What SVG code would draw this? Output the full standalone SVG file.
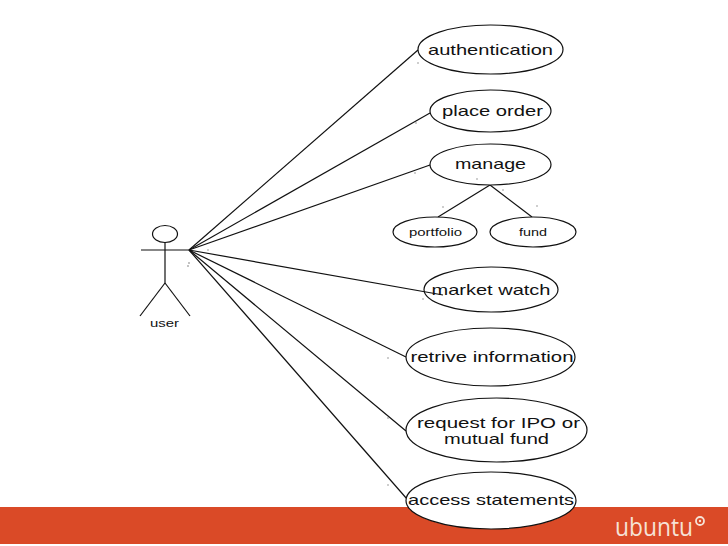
<svg xmlns="http://www.w3.org/2000/svg" width="728" height="546" viewBox="0 0 728 546">
<style>
.n{fill:#fff;stroke:#111;stroke-width:1.2}
.c line,.a line{stroke:#111;stroke-width:1.2;fill:none}
.a ellipse{fill:#fff;stroke:#111;stroke-width:1.2}
text{font-family:"Liberation Sans",Arial,sans-serif;fill:#111;text-anchor:middle}
.l{font-size:15px}
.s{font-size:10.5px}
.d circle{fill:#777}
</style>
<rect id="band" x="0" y="507" width="728" height="37" fill="#da4a27"/>
<g id="connectors" class="c">
<line x1="189" y1="250" x2="418" y2="50"/>
<line x1="189" y1="250" x2="430" y2="113"/>
<line x1="189" y1="250" x2="430" y2="165"/>
<line x1="189" y1="250" x2="443" y2="295"/>
<line x1="189" y1="250" x2="406" y2="357"/>
<line x1="189" y1="250" x2="406" y2="431"/>
<line x1="189" y1="250" x2="407" y2="499"/>
<line x1="490" y1="185" x2="438" y2="217"/>
<line x1="490" y1="185" x2="532" y2="217"/>
</g>
<g id="actor" class="a">
<ellipse cx="165" cy="234" rx="12.5" ry="8.5"/>
<line x1="165" y1="242" x2="165" y2="283"/>
<line x1="141" y1="250" x2="189" y2="250"/>
<line x1="165" y1="283" x2="140" y2="316"/>
<line x1="165" y1="283" x2="190" y2="316"/>
<text class="s" x="164.5" y="327" textLength="29" lengthAdjust="spacingAndGlyphs">user</text>
</g>
<g id="authentication"><ellipse class="n" cx="490.5" cy="49.5" rx="72.5" ry="24.5"/><text class="l" x="490.5" y="55" textLength="125" lengthAdjust="spacingAndGlyphs">authentication</text></g>
<g id="place-order"><ellipse class="n" cx="490.5" cy="111" rx="60.5" ry="21"/><text class="l" x="492.5" y="116" textLength="101" lengthAdjust="spacingAndGlyphs">place order</text></g>
<g id="manage"><ellipse class="n" cx="490.5" cy="164.5" rx="60.5" ry="20.5"/><text class="l" x="490.5" y="169" textLength="71" lengthAdjust="spacingAndGlyphs">manage</text></g>
<g id="portfolio"><ellipse class="n" cx="435" cy="232" rx="42" ry="15"/><text class="s" x="435.5" y="236" textLength="53" lengthAdjust="spacingAndGlyphs">portfolio</text></g>
<g id="fund"><ellipse class="n" cx="533" cy="232" rx="43" ry="15"/><text class="s" x="533" y="236" textLength="28" lengthAdjust="spacingAndGlyphs">fund</text></g>
<g id="market-watch"><ellipse class="n" cx="491" cy="289.5" rx="67" ry="22.5" style="fill:none"/><text class="l" x="491" y="295" textLength="119" lengthAdjust="spacingAndGlyphs">market watch</text></g>
<g id="retrive-information"><ellipse class="n" cx="490.5" cy="357" rx="84.5" ry="29"/><text class="l" x="492" y="362" textLength="163" lengthAdjust="spacingAndGlyphs">retrive information</text></g>
<g id="request"><ellipse class="n" cx="496.5" cy="430" rx="90.5" ry="32"/><text class="l" x="498.5" y="428" textLength="163" lengthAdjust="spacingAndGlyphs">request for IPO or</text><text class="l" x="496.5" y="444" textLength="105" lengthAdjust="spacingAndGlyphs">mutual fund</text></g>
<g id="access-statements"><ellipse class="n" cx="491" cy="500.5" rx="85" ry="28.5"/><text class="l" x="491" y="505" textLength="166" lengthAdjust="spacingAndGlyphs">access statements</text></g>
<g id="specks" class="d">
<circle cx="418" cy="63" r=".7"/><circle cx="416" cy="123" r=".7"/><circle cx="415" cy="173" r=".7"/><circle cx="477" cy="179" r=".7"/><circle cx="443" cy="207" r=".7"/><circle cx="537" cy="206" r=".7"/><circle cx="503" cy="190" r=".7"/><circle cx="423" cy="299" r=".7"/><circle cx="388" cy="358" r=".7"/><circle cx="388" cy="418" r=".7"/><circle cx="388" cy="485" r=".7"/><circle cx="189" cy="263" r=".8"/><circle cx="188" cy="266" r=".8"/><circle cx="208" cy="250" r=".7"/>
</g>
<g id="logo">
<text x="654" y="536" textLength="78" lengthAdjust="spacingAndGlyphs" style="font-family:'Open Sans','Noto Sans',sans-serif;font-size:26px;fill:#f6e2d6">ubuntu</text>
<circle cx="700" cy="521" r="4" fill="none" stroke="#f6e2d6" stroke-width="1.8"/>
<circle cx="700" cy="521" r="1.2" fill="#f6e2d6"/>
</g>
</svg>
